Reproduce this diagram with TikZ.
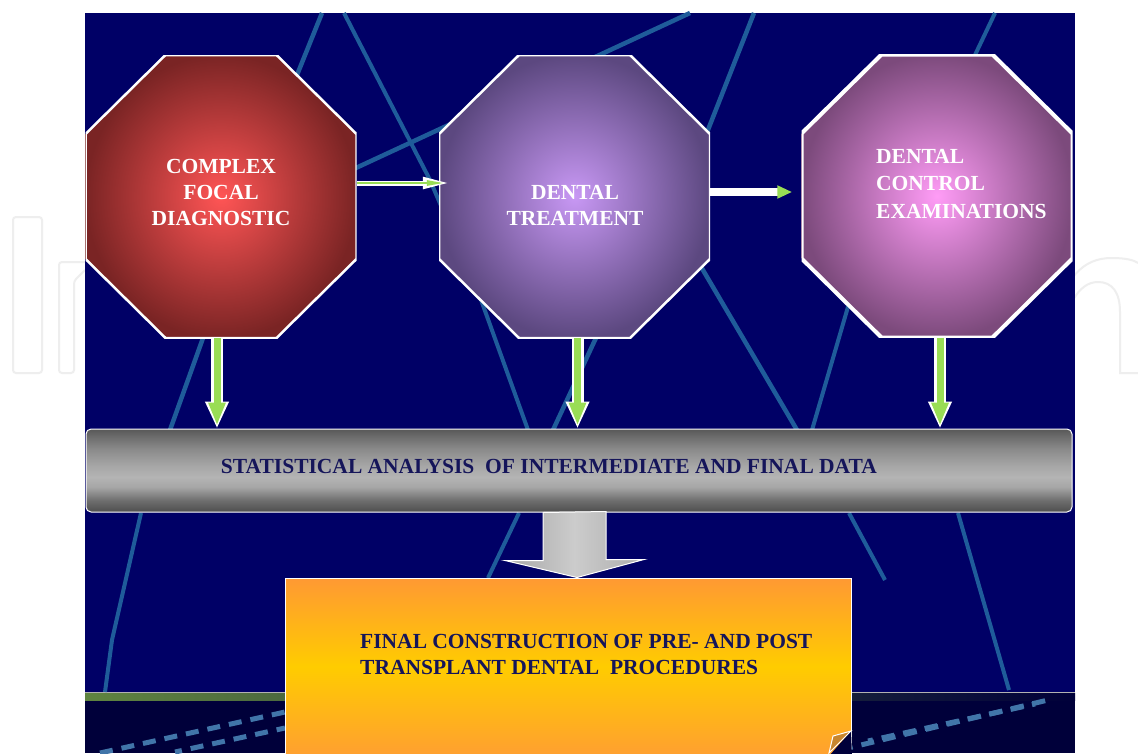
\documentclass[tikz,border=0pt]{standalone}
\usepackage{fontspec}
\setmainfont{Liberation Serif}
\usetikzlibrary{arrows.meta,calc}
\newcommand{\lbl}{\bfseries\fontsize{21.5}{26}\selectfont}

\definecolor{panelblue}{HTML}{000066}
\definecolor{floorblue}{HTML}{00003A}
\definecolor{raycol}{HTML}{1F5C9A}
\definecolor{arrowgreen}{HTML}{99DD55}
\definecolor{textnavy}{HTML}{15155A}
\definecolor{stripgreen}{HTML}{5F8440}
\definecolor{diagin}{HTML}{FF5555}
\definecolor{diagout}{HTML}{7A2424}
\definecolor{treatin}{HTML}{C898F4}
\definecolor{treatout}{HTML}{5C4880}
\definecolor{ctrlin}{HTML}{FF9CF6}
\definecolor{ctrlout}{HTML}{7C4A7C}
\definecolor{orangetop}{HTML}{FF9933}
\definecolor{orangemid}{HTML}{FFCC00}
\definecolor{orangebot}{HTML}{FFA030}
\definecolor{foldcol}{HTML}{C8862E}
\definecolor{bara}{HTML}{4E4E4E}
\definecolor{barb}{HTML}{6E6E6E}
\definecolor{barc}{HTML}{A6A6A6}
\definecolor{bard}{HTML}{B4B4B4}
\definecolor{bare}{HTML}{8A8A8A}
\definecolor{barf}{HTML}{585858}
\pgfdeclareverticalshading{barshade}{100bp}{color(0bp)=(bara); color(25bp)=(bara);
  color(32bp)=(barb); color(40bp)=(barc); color(46bp)=(bard); color(53bp)=(barc);
  color(63bp)=(bare); color(70bp)=(barb); color(75bp)=(barf); color(100bp)=(barf)}

\begin{document}
\begin{tikzpicture}[x=1pt,y=-1pt,
  octa/.style n args={3}{minimum width=271pt, minimum height=283pt, inner sep=0pt,
    path picture={
      \shadedraw[inner color=#1, outer color=#2, draw=white, line width=#3]
        ([xshift=80pt]path picture bounding box.north west) --
        ([xshift=-80pt]path picture bounding box.north east) --
        ([yshift=-79pt]path picture bounding box.north east) --
        ([yshift=79pt]path picture bounding box.south east) --
        ([xshift=-80pt]path picture bounding box.south east) --
        ([xshift=80pt]path picture bounding box.south west) --
        ([yshift=79pt]path picture bounding box.south west) --
        ([yshift=-79pt]path picture bounding box.north west) -- cycle;}},
  octtext/.style={white, font=\lbl, inner sep=0pt},
  navytext/.style={textnavy, font=\lbl, inner sep=0pt},
  statbar/.style={minimum width=986pt, minimum height=83pt, inner sep=0pt,
    shading=barshade, draw=white, line width=1pt, rounded corners=5pt},
  finalbox/.style={minimum width=566pt, minimum height=177pt, inner sep=0pt,
    top color=orangetop, bottom color=orangebot, middle color=orangemid,
    draw=white, line width=1pt},
  ray/.style={raycol, line width=4.5pt},
  floorray/.style={raycol!85, line width=5pt, dash pattern=on 13pt off 9pt},
  wmark/.style={gray!13, line width=2pt},
  greenout/.style={white, line width=12pt, -{Triangle[length=27pt,width=22pt]}},
  greenin/.style={arrowgreen, line width=7pt, -{Triangle[length=23pt,width=16pt]}}]
  \fill[white] (0,0) rectangle (1138,753);
  \useasboundingbox (0,0) rectangle (1138,753);
  % watermark behind the panel
  \draw[wmark, rounded corners=3pt] (13,217) rectangle (42,373);
  \draw[wmark, rounded corners=3pt] (85,262) -- (59,262) -- (59,373) -- (74,373)
    -- (74,281) -- (85,270);
  \draw[wmark] (1073,277) .. controls (1085,262) and (1098,258) .. (1112,258)
    .. controls (1125,258) and (1134,260) .. (1138,263);
  \draw[wmark] (1073,300) .. controls (1080,288) and (1088,282) .. (1098,282)
    .. controls (1112,282) and (1120,292) .. (1120,312) -- (1120,373) -- (1138,373);
  % stage
  \fill[panelblue] (85,13) rectangle (1075,692);
  \fill[floorblue] (85,692) rectangle (1075,753);
  \shade[left color=stripgreen, right color=floorblue] (85,693) rectangle (1075,700);
  \draw[gray!60, line width=1pt] (85,692) -- (1075,692);
  \draw[ray] (322,13) -- (297,75) -- (203,338) -- (170,430);
  \draw[ray, line width=4pt] (141,513) -- (112,640) -- (105,692);
  \draw[ray] (330,180) -- (690,13);
  \draw[ray, line width=4pt] (344,13) -- (430,180) -- (480,297) -- (528,430);
  \draw[ray] (754,13) -- (704,140) -- (595,340) -- (553,430);
  \draw[ray, line width=4pt] (519,513) -- (488,578);
  \draw[ray] (700,265) -- (797,430);
  \draw[ray, line width=4pt] (849,513) -- (885,580);
  \draw[ray, line width=4pt] (850,300) -- (812,430);
  \draw[ray, line width=4pt] (995,13) -- (975,55);
  \draw[ray, line width=4pt] (958,513) -- (1009,690);
  \draw[floorray] (840,750) -- (1048,700);
  \draw[floorray, dash phase=8pt] (868,741) -- (1035,704);
  \draw[floorray] (100,753) -- (285,712);
  \draw[floorray, dash phase=6pt] (175,752) -- (285,728);
  % octagons
  \node[octa={diagin}{diagout}{2.5pt}] (diag) at (221,196.5) {};
  \node[octa={treatin}{treatout}{2.5pt}] (treat) at (574.5,196.5) {};
  \node[octa={ctrlin}{ctrlout}{4pt}] (ctrl) at (937,196) {};
  \node[octtext, align=center, anchor=north] at (221,159) {COMPLEX\\FOCAL\\DIAGNOSTIC};
  \node[octtext, align=center, anchor=north] at (575,185) {DENTAL\\TREATMENT};
  \node[octtext, align=left, anchor=north west, font=\bfseries\fontsize{21.5}{27.5}\selectfont]
    at (876,149) {DENTAL\\CONTROL\\EXAMINATIONS};
  % bar and final box
  \node[statbar] (stat) at (579,470.5) {};
  \node[navytext, anchor=base] at (549,473)
    {STATISTICAL ANALYSIS\ \ OF INTERMEDIATE AND FINAL DATA};
  \node[finalbox] (final) at (568,666.5) {};
  \fill[floorblue] (851,731) -- (852,756) -- (829,756) -- cycle;
  \filldraw[fill=foldcol, draw=white, line width=1pt] (851,731) -- (833,736) -- (829,753) -- cycle;
  \node[navytext, align=left, anchor=north west] at (360,634)
    {FINAL CONSTRUCTION OF PRE- AND POST\\TRANSPLANT DENTAL\ \ PROCEDURES};
  % arrows
  \draw[white, line width=5pt, -{Triangle[length=27pt,width=11pt]}]
    ($(diag.east)+(0,-13.5)$) -- ($(treat.west)+(11,-13.5)$);
  \draw[arrowgreen, line width=2.5pt, -{Triangle[length=18pt,width=5pt]}]
    ($(diag.east)+(0,-13.5)$) -- ($(treat.west)+(6,-13.5)$);
  \draw[white, line width=8pt, -{Triangle[length=27pt,width=9pt,color=arrowgreen]}]
    ($(treat.east)+(0,-4.5)$) -- ($(ctrl.west)+(3,-4)$);
  \draw[greenout] ($(diag.south)+(-4,0)$) -- ($(diag.south |- stat.north)+(-4,0)$);
  \draw[greenin] ($(diag.south)+(-4,0)$) -- ($(diag.south |- stat.north)+(-4,-3)$);
  \draw[greenout] ($(treat.south)+(3,0)$) -- ($(treat.south |- stat.north)+(3,0)$);
  \draw[greenin] ($(treat.south)+(3,0)$) -- ($(treat.south |- stat.north)+(3,-3)$);
  \draw[greenout] ($(ctrl.south)+(3,0)$) -- ($(ctrl.south |- stat.north)+(3,0)$);
  \draw[greenin] ($(ctrl.south)+(3,0)$) -- ($(ctrl.south |- stat.north)+(3,-3)$);
  \shadedraw[left color=gray!70, right color=gray!65, middle color=gray!40, draw=white, line width=1pt]
    ($(stat.south)+(-36,0)$) -- ++(0,48) -- ++(-38,0) -- ($(final.north)+(9,0)$)
    -- ++(67,-18) -- ++(-38,0) -- ++(0,-48) -- cycle;
\end{tikzpicture}
\end{document}
